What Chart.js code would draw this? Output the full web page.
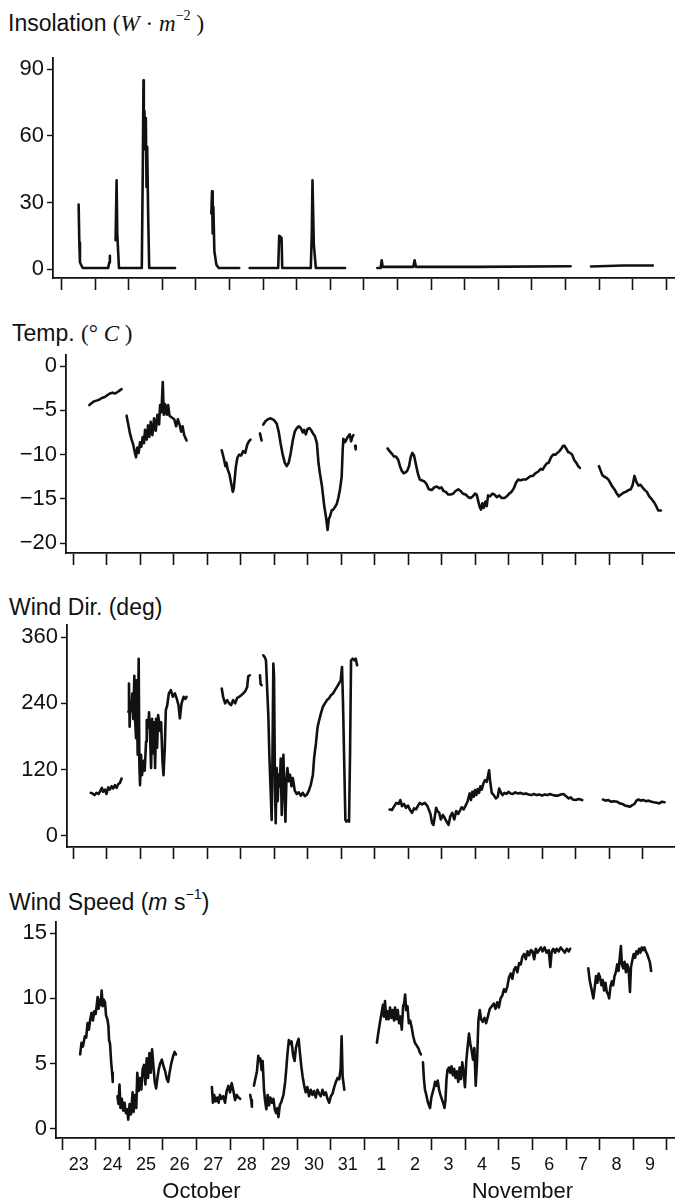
<!DOCTYPE html>
<html>
<head>
<meta charset="utf-8">
<title>Insolation, temperature and wind, 23 October - 9 November</title>
<script src="https://cdn.jsdelivr.net/npm/chart.js@4.4.1/dist/chart.umd.min.js"></script>
<style>
  html, body { margin: 0; padding: 0; background: #fff; }
  body { position: relative; width: 675px; height: 1204px; overflow: hidden;
         font-family: 'Liberation Sans', Arial, sans-serif; color: #111; }
  canvas { position: absolute; left: 0; }
  .ttl { position: absolute; font-size: 23px; line-height: 1; white-space: nowrap; }
  .sr { font-family: 'Liberation Serif', 'Times New Roman', serif; }
  sup { font-size: 62%; vertical-align: 0.75em; line-height: 0; }
</style>
</head>
<body>
<div class="ttl" style="left:8px;top:12px">Insolation <span class="sr">(<i>W</i> · <i>m</i><sup>−2</sup> )</span></div>
<div class="ttl" style="left:12px;top:322px">Temp. <span class="sr">(° <i>C</i> )</span></div>
<div class="ttl" style="left:9px;top:596px">Wind Dir. (deg)</div>
<div class="ttl" style="left:9px;top:891px">Wind Speed (<i>m</i> s<sup>−1</sup>)</div>

<canvas id="insol" width="675" height="252" style="top:42px"></canvas>
<canvas id="temp" width="675" height="230" style="top:339px"></canvas>
<canvas id="wdir" width="675" height="254" style="top:609px"></canvas>
<canvas id="wspd" width="675" height="298" style="top:906px"></canvas>

<script>
// time is in days after 23 October 00:00, null value = gap in the record
var dayLabels = ['23','24','25','26','27','28','29','30','31','1','2','3','4','5','6','7','8','9'];
var monthLabels = ['October', 'November'];
var monthAt = [4.15, 13.7];

var insolTicks = [0, 30, 60, 90];
var tempTicks = [-20, -15, -10, -5, 0];
var wdirTicks = [0, 120, 240, 360];
var wspdTicks = [0, 5, 10, 15];

var insolation = [
  [0.51,29],[0.53,12],[0.55,3],[0.63,0.5],[1.00,0.5],[1.39,0.5],[1.42,3],[1.44,6],
  [1.52,null],
  [1.61,13],[1.64,40],[1.66,16],[1.71,0.5],[2.00,0.5],[2.39,0.5],[2.42,46],[2.44,85],[2.45,58],
  [2.47,71],[2.49,54],[2.51,68],[2.53,37],[2.55,55],[2.58,24],[2.61,0.5],[3.00,0.5],[3.38,0.5],
  [3.90,null],
  [4.46,25],[4.48,35],[4.50,16],[4.52,28],[4.55,8],[4.61,2],[4.68,0.5],[5.00,0.5],[5.29,0.5],
  [5.45,null],
  [5.60,0.5],[6.00,0.5],[6.45,0.5],[6.48,15],[6.55,14],[6.57,0.5],[7.00,0.5],[7.42,0.5],
  [7.45,16],[7.47,40],[7.51,11],[7.57,0.5],[8.00,0.5],[8.44,0.5],
  [8.90,null],
  [9.40,0.5],[9.50,0.5],[9.53,4],[9.56,1],[10.00,1],[10.47,1],[10.51,4],[10.55,1],[12.34,1],[15.15,1.3],
  [15.45,null],
  [15.76,1.2],[16.72,1.6],[17.60,1.6]
];

var temperature = [
  [0.49,-4.4],[0.55,-4.2],[0.62,-4.0],[0.70,-3.9],[0.78,-3.8],[0.86,-3.6],[0.95,-3.5],[1.02,-3.3],
  [1.10,-3.1],[1.18,-3.0],[1.26,-3.1],[1.34,-2.9],[1.45,-2.6],
  [1.52,null],
  [1.60,-5.6],[1.64,-6.4],[1.70,-7.6],[1.75,-8.3],[1.80,-8.9],[1.85,-9.8],[1.88,-10.3],[1.92,-9.2],
  [1.96,-9.8],[2.00,-8.6],[2.04,-9.1],[2.08,-8.0],[2.12,-8.7],[2.15,-7.2],[2.20,-8.3],[2.24,-6.7],
  [2.28,-8.0],[2.32,-6.3],[2.37,-7.8],[2.42,-5.9],[2.47,-7.3],[2.52,-5.5],[2.57,-6.6],[2.60,-4.4],
  [2.64,-5.2],[2.68,-1.8],[2.71,-5.5],[2.75,-4.3],[2.80,-5.5],[2.84,-4.4],[2.88,-5.6],[2.95,-5.8],
  [3.02,-6.0],[3.08,-6.8],[3.13,-6.0],[3.18,-6.6],[3.23,-7.4],[3.27,-6.8],[3.32,-7.8],[3.39,-8.4],
  [3.90,null],
  [4.44,-9.5],[4.50,-10.4],[4.55,-11.3],[4.58,-10.9],[4.62,-11.7],[4.67,-12.2],[4.72,-13.2],[4.77,-14.2],
  [4.80,-13.8],[4.86,-11.4],[4.91,-10.3],[4.96,-10.0],[5.02,-10.1],[5.08,-9.6],[5.14,-9.8],[5.20,-8.9],
  [5.25,-8.5],[5.30,-8.3],
  [5.45,null],
  [5.58,-7.6],[5.63,-8.4],
  [5.655,null],
  [5.68,-6.6],[5.75,-6.2],[5.82,-6.0],[5.90,-5.9],[6.00,-6.1],[6.08,-6.5],[6.14,-7.4],[6.20,-8.8],
  [6.26,-10.0],[6.32,-10.9],[6.38,-11.3],[6.44,-10.9],[6.50,-9.8],[6.56,-8.4],[6.62,-7.4],[6.68,-7.0],
  [6.74,-6.8],[6.80,-7.0],[6.86,-7.5],[6.90,-7.2],[6.95,-7.7],[7.00,-7.1],[7.06,-7.0],[7.12,-7.3],
  [7.18,-7.7],[7.22,-7.9],[7.28,-8.7],[7.33,-11.0],[7.37,-12.1],[7.43,-13.5],[7.50,-15.8],[7.55,-17.0],
  [7.60,-18.5],[7.64,-17.2],[7.67,-17.0],[7.72,-16.3],[7.77,-16.2],[7.82,-15.9],[7.87,-15.6],[7.92,-14.9],
  [7.97,-13.9],[8.02,-12.5],[8.05,-9.5],[8.07,-8.2],[8.12,-8.6],[8.16,-8.3],[8.20,-8.0],[8.26,-7.7],
  [8.30,-8.5],[8.34,-8.0],[8.37,-7.8],
  [8.40,null],
  [8.42,-9.0],[8.44,-9.4],
  [8.90,null],
  [9.39,-9.3],[9.45,-9.6],[9.52,-9.9],[9.58,-10.2],[9.64,-10.2],[9.71,-10.6],[9.76,-11.3],[9.81,-11.8],
  [9.87,-12.1],[9.93,-12.0],[9.98,-11.8],[10.03,-11.3],[10.08,-10.3],[10.13,-9.8],[10.18,-10.1],[10.23,-11.0],
  [10.30,-12.2],[10.35,-12.8],[10.40,-12.9],[10.48,-13.0],[10.55,-13.3],[10.62,-13.9],[10.71,-14.0],[10.78,-13.7],
  [10.86,-13.6],[10.93,-13.8],[11.00,-13.7],[11.06,-14.1],[11.13,-14.2],[11.20,-14.5],[11.28,-14.5],[11.35,-14.4],
  [11.42,-14.1],[11.50,-13.9],[11.57,-14.1],[11.64,-14.4],[11.72,-14.5],[11.80,-14.8],[11.87,-14.9],[11.94,-14.7],
  [12.00,-14.4],[12.05,-14.5],[12.10,-15.3],[12.14,-15.9],[12.18,-16.2],[12.22,-15.5],[12.26,-16.0],[12.31,-15.3],
  [12.35,-15.8],[12.39,-14.6],[12.45,-14.7],[12.52,-14.4],[12.58,-14.5],[12.65,-14.8],[12.72,-14.6],[12.80,-14.9],
  [12.88,-14.9],[12.95,-14.7],[13.02,-14.4],[13.09,-14.2],[13.16,-13.8],[13.22,-13.2],[13.29,-12.8],[13.36,-12.9],
  [13.44,-12.8],[13.52,-12.8],[13.59,-12.6],[13.66,-12.4],[13.73,-12.4],[13.80,-12.1],[13.89,-11.9],[13.96,-11.6],
  [14.02,-11.7],[14.08,-11.3],[14.14,-11.0],[14.20,-10.9],[14.27,-10.3],[14.33,-10.0],[14.40,-10.0],[14.46,-9.8],
  [14.52,-9.6],[14.58,-9.3],[14.63,-9.0],[14.67,-9.0],[14.72,-9.3],[14.78,-9.7],[14.84,-9.8],[14.90,-10.0],
  [14.96,-10.6],[15.02,-10.9],[15.08,-11.3],[15.13,-11.5],
  [15.40,null],
  [15.70,-11.3],[15.75,-11.8],[15.80,-12.3],[15.86,-12.5],[15.92,-12.6],[15.98,-12.8],[16.04,-13.2],[16.10,-13.6],
  [16.16,-13.9],[16.22,-14.3],[16.29,-14.7],[16.36,-14.5],[16.43,-14.3],[16.50,-14.2],[16.58,-14.0],[16.65,-13.9],
  [16.70,-13.5],[16.76,-12.4],[16.82,-13.1],[16.88,-13.5],[16.94,-13.4],[17.00,-13.7],[17.07,-14.0],[17.13,-14.2],
  [17.20,-14.7],[17.27,-15.0],[17.35,-15.4],[17.42,-15.9],[17.47,-16.3],[17.55,-16.3]
];

var windDir = [
  [0.53,78],[0.58,77],[0.64,74],[0.70,78],[0.76,76],[0.81,81],[0.86,87],[0.90,80],[0.95,84],[1.00,76],
  [1.05,88],[1.10,84],[1.15,90],[1.20,86],[1.25,92],[1.30,87],[1.35,94],[1.40,96],[1.45,104],
  [1.55,null],
  [1.65,225],[1.67,276],[1.69,198],[1.71,241],[1.74,226],[1.77,258],[1.80,212],[1.83,290],[1.85,215],
  [1.88,177],[1.90,282],[1.93,147],[1.96,321],[1.98,130],[2.00,92],[2.03,147],[2.06,110],[2.10,136],
  [2.14,118],[2.18,171],[2.20,210],[2.24,196],[2.27,224],[2.30,180],[2.33,123],[2.36,212],[2.39,150],
  [2.42,206],[2.45,123],[2.48,212],[2.51,160],[2.54,219],[2.57,206],[2.60,190],[2.63,206],[2.67,136],
  [2.70,110],[2.74,160],[2.77,228],[2.81,236],[2.86,258],[2.92,264],[2.98,252],[3.04,258],[3.10,248],
  [3.15,236],[3.19,213],[3.24,240],[3.30,252],[3.35,248],[3.39,252],
  [3.90,null],
  [4.44,267],[4.48,252],[4.54,240],[4.60,246],[4.66,240],[4.72,237],[4.78,246],[4.84,240],[4.90,250],
  [4.96,252],[5.02,255],[5.08,258],[5.14,262],[5.20,270],[5.23,289],[5.28,291],
  [5.45,null],
  [5.58,291],[5.60,275],[5.63,273],
  [5.655,null],
  [5.68,327],[5.72,324],[5.76,318],[5.80,260],[5.83,219],[5.86,147],[5.90,80],[5.93,29],[5.95,120],
  [5.98,312],[6.00,290],[6.03,83],[6.05,23],[6.08,123],[6.11,63],[6.14,111],[6.17,90],[6.20,140],
  [6.23,38],[6.26,120],[6.28,147],[6.31,83],[6.34,26],[6.37,100],[6.40,123],[6.44,99],[6.48,111],
  [6.52,90],[6.56,105],[6.62,82],[6.68,76],[6.74,79],[6.80,73],[6.86,78],[6.92,72],[6.98,75],
  [7.04,82],[7.10,93],[7.16,111],[7.20,143],[7.25,167],[7.30,197],[7.35,210],[7.40,222],[7.46,234],
  [7.52,240],[7.58,246],[7.64,249],[7.70,255],[7.76,258],[7.82,264],[7.88,270],[7.94,276],[7.99,282],
  [8.03,306],[8.06,240],[8.10,120],[8.13,29],[8.16,26],[8.20,28],[8.24,26],[8.27,150],[8.30,318],
  [8.35,321],[8.40,318],[8.44,321],[8.48,309],
  [8.90,null],
  [9.45,48],[9.52,47],[9.58,53],[9.65,60],[9.72,58],[9.77,65],[9.82,54],[9.88,58],[9.94,51],[10.00,55],
  [10.06,47],[10.12,42],[10.18,50],[10.24,48],[10.29,54],[10.35,60],[10.42,57],[10.50,60],[10.57,55],
  [10.62,48],[10.67,40],[10.72,23],[10.76,20],[10.80,35],[10.84,51],[10.88,45],[10.93,42],[10.98,30],
  [11.04,38],[11.10,32],[11.16,25],[11.21,20],[11.26,35],[11.32,42],[11.38,30],[11.44,45],[11.50,40],
  [11.56,47],[11.60,52],[11.66,48],[11.72,55],[11.78,63],[11.84,77],[11.88,65],[11.92,80],[11.96,71],
  [12.00,83],[12.04,74],[12.08,85],[12.12,78],[12.16,90],[12.20,84],[12.25,95],[12.30,101],[12.35,98],
  [12.40,112],[12.42,119],[12.45,100],[12.50,78],[12.56,74],[12.62,68],[12.68,71],[12.72,86],[12.76,80],
  [12.82,74],[12.88,78],[12.94,76],[13.00,80],[13.06,77],[13.13,76],[13.20,79],[13.28,77],[13.36,78],
  [13.44,76],[13.52,77],[13.60,75],[13.68,74],[13.76,76],[13.84,74],[13.92,75],[14.00,73],[14.08,75],
  [14.16,74],[14.24,76],[14.32,74],[14.40,73],[14.48,73],[14.56,75],[14.64,76],[14.72,72],[14.80,68],
  [14.86,70],[14.92,66],[15.00,65],[15.10,67],[15.20,65],
  [15.50,null],
  [15.82,66],[15.90,64],[15.98,65],[16.06,62],[16.14,63],[16.24,62],[16.32,59],[16.40,58],[16.48,55],
  [16.56,54],[16.63,53],[16.70,56],[16.76,58],[16.82,64],[16.88,66],[16.95,64],[17.02,65],[17.10,63],
  [17.18,64],[17.27,62],[17.34,61],[17.42,60],[17.50,59],[17.58,62],[17.66,61]
];

var windSpeed = [
  [0.54,5.7],[0.58,6.6],[0.62,6.3],[0.68,7.1],[0.72,7.0],[0.76,8.1],[0.80,7.6],[0.84,8.4],[0.88,8.9],
  [0.92,8.3],[0.96,9.0],[1.00,8.8],[1.03,9.4],[1.06,10.1],[1.09,9.2],[1.12,9.9],[1.15,9.5],[1.18,10.6],
  [1.21,9.4],[1.24,9.9],[1.28,9.7],[1.31,8.7],[1.35,8.4],[1.38,7.9],[1.40,6.8],[1.43,6.5],[1.46,5.2],
  [1.49,4.3],[1.51,3.6],
  [1.58,null],
  [1.65,2.5],[1.68,1.9],[1.71,3.4],[1.74,1.6],[1.78,2.3],[1.82,1.4],[1.86,2.0],[1.90,1.2],[1.94,1.5],
  [1.97,0.7],[2.01,1.9],[2.05,1.1],[2.10,2.8],[2.13,1.3],[2.17,2.6],[2.21,1.6],[2.24,4.3],[2.28,2.9],
  [2.32,3.9],[2.36,3.0],[2.40,4.6],[2.44,4.9],[2.48,3.4],[2.52,5.4],[2.56,3.9],[2.60,5.8],[2.64,4.3],
  [2.68,6.1],[2.72,4.8],[2.76,3.6],[2.80,3.1],[2.84,3.9],[2.88,4.6],[2.92,5.0],[2.97,5.3],[3.02,4.8],
  [3.07,4.4],[3.12,3.8],[3.16,3.6],[3.20,4.3],[3.25,5.0],[3.31,5.6],[3.35,5.9],[3.39,5.7],
  [3.90,null],
  [4.46,3.2],[4.49,2.0],[4.53,2.6],[4.57,2.1],[4.62,2.4],[4.66,2.0],[4.70,2.6],[4.75,2.3],[4.80,2.5],
  [4.85,2.0],[4.90,2.9],[4.95,3.3],[5.00,2.8],[5.05,3.5],[5.10,2.9],[5.15,2.2],[5.20,2.6],[5.25,2.4],
  [5.30,2.3],
  [5.45,null],
  [5.60,2.6],[5.63,2.2],[5.65,1.7],
  [5.68,null],
  [5.71,3.3],[5.75,3.8],[5.80,4.4],[5.84,5.6],[5.87,5.2],[5.90,5.4],[5.94,4.5],[5.97,5.2],[6.01,3.0],
  [6.04,2.2],[6.08,1.5],[6.12,2.6],[6.16,1.8],[6.20,2.4],[6.25,2.0],[6.29,2.3],[6.33,1.5],[6.37,1.2],
  [6.41,1.6],[6.44,0.9],[6.48,1.8],[6.53,2.1],[6.59,2.6],[6.64,3.6],[6.68,4.8],[6.71,5.8],[6.75,6.8],
  [6.79,6.5],[6.83,6.7],[6.88,5.6],[6.92,5.2],[6.96,6.2],[7.00,6.6],[7.04,6.9],[7.08,5.8],[7.12,4.8],
  [7.16,4.0],[7.20,3.4],[7.25,2.8],[7.30,3.2],[7.35,2.5],[7.40,3.0],[7.45,2.6],[7.50,2.9],[7.55,2.4],
  [7.60,3.0],[7.65,2.7],[7.70,2.5],[7.75,3.0],[7.80,2.6],[7.85,2.8],[7.90,2.3],[7.95,2.0],[8.00,2.5],
  [8.05,2.7],[8.10,3.2],[8.15,3.6],[8.20,3.9],[8.25,3.8],[8.29,4.6],[8.32,7.1],[8.35,4.0],[8.40,3.0],
  [8.90,null],
  [9.37,6.6],[9.42,7.5],[9.47,8.3],[9.51,8.9],[9.55,9.5],[9.58,8.6],[9.61,9.8],[9.65,8.4],[9.68,9.0],
  [9.72,8.4],[9.76,9.3],[9.80,8.5],[9.84,9.1],[9.88,8.3],[9.91,9.3],[9.95,8.4],[9.99,9.1],[10.03,8.1],
  [10.07,8.6],[10.11,7.6],[10.15,9.4],[10.18,9.6],[10.21,10.3],[10.24,9.1],[10.28,9.4],[10.32,8.1],
  [10.36,8.3],[10.41,7.7],[10.45,7.1],[10.50,6.6],[10.55,6.4],[10.60,6.2],[10.64,5.9],[10.68,5.7],
  [10.71,null],
  [10.74,5.1],[10.77,3.8],[10.80,3.0],[10.84,2.6],[10.88,2.1],[10.92,1.8],[10.95,1.6],[10.99,2.4],
  [11.03,2.8],[11.07,3.2],[11.10,3.6],[11.14,3.3],[11.18,3.7],[11.22,3.0],[11.26,2.6],[11.30,2.3],
  [11.34,2.0],[11.38,1.6],[11.41,2.2],[11.44,3.8],[11.47,4.5],[11.51,4.7],[11.55,4.3],[11.59,4.8],
  [11.63,4.1],[11.67,4.6],[11.71,3.9],[11.75,4.4],[11.79,3.6],[11.83,4.7],[11.87,3.8],[11.91,5.1],
  [11.95,4.3],[11.99,3.2],[12.03,5.2],[12.07,6.3],[12.11,7.3],[12.15,6.5],[12.19,6.0],[12.23,5.3],
  [12.27,6.2],[12.31,3.3],[12.35,5.2],[12.39,8.3],[12.43,9.1],[12.47,8.4],[12.52,8.2],[12.57,8.5],
  [12.62,8.1],[12.68,8.7],[12.73,9.2],[12.79,9.4],[12.85,9.6],[12.90,9.2],[12.95,9.7],[13.00,9.3],
  [13.05,10.0],[13.10,10.2],[13.15,10.7],[13.20,10.5],[13.25,10.9],[13.30,11.6],[13.35,11.9],[13.40,11.5],
  [13.45,12.2],[13.50,12.4],[13.55,12.0],[13.60,12.7],[13.65,12.6],[13.70,13.2],[13.75,13.4],[13.80,13.0],
  [13.85,13.6],[13.90,13.3],[13.95,13.7],[14.00,13.6],[14.05,13.0],[14.10,13.8],[14.15,13.5],[14.20,13.7],
  [14.25,13.9],[14.30,13.6],[14.36,13.9],[14.42,13.5],[14.48,13.7],[14.53,12.4],[14.57,13.6],[14.62,13.8],
  [14.67,13.5],[14.72,13.8],[14.78,13.6],[14.84,13.9],[14.90,13.7],[14.96,13.5],[15.02,13.8],[15.08,13.6],
  [15.12,13.8],
  [15.40,null],
  [15.66,12.3],[15.70,11.4],[15.74,10.9],[15.78,10.4],[15.81,10.0],[15.85,10.8],[15.89,11.7],[15.93,11.2],
  [15.97,11.9],[16.01,11.6],[16.05,11.0],[16.09,11.4],[16.13,10.6],[16.17,11.2],[16.21,10.5],[16.25,10.3],
  [16.28,10.0],[16.32,10.9],[16.36,11.3],[16.40,11.0],[16.44,11.7],[16.48,12.0],[16.52,12.6],[16.56,12.1],
  [16.60,13.2],[16.63,14.0],[16.66,12.6],[16.70,12.3],[16.74,12.8],[16.78,12.0],[16.82,12.6],[16.86,12.2],
  [16.90,10.5],[16.93,12.4],[16.97,12.9],[17.01,13.4],[17.05,13.1],[17.09,13.6],[17.13,13.4],[17.17,13.8],
  [17.21,13.5],[17.25,13.9],[17.29,13.7],[17.33,13.9],[17.37,13.6],[17.41,13.4],[17.45,13.1],[17.49,12.8],
  [17.53,12.1]
];

Chart.defaults.font.family = "'Liberation Sans', Arial, sans-serif";
Chart.defaults.color = '#111';

function dayEdges(scale) {
  var t = [];
  for (var d = 0; d <= 18; d++) {
    if (d >= scale.min && d <= scale.max) t.push({value: d});
  }
  scale.ticks = t;
}

function panel(id, series, yTicks, f) {
  var scales = {
    x: {
      type: 'linear', position: 'bottom', min: f.xmin, max: f.xmax, weight: 0,
      afterBuildTicks: dayEdges,
      afterFit: function (s) { s.height = f.xh; s.paddingLeft = 0; s.paddingRight = 0; },
      grid: { drawOnChartArea: false, tickLength: 12, tickWidth: 1.6, tickColor: '#111' },
      border: { color: '#111', width: 1.8 },
      ticks: {
        autoSkip: false, maxRotation: 0, padding: 4, labelOffset: f.half, font: { size: 18 },
        callback: function (v, i) { return f.labels ? (dayLabels[i] || '') : ''; }
      }
    },
    y: {
      type: 'linear', min: f.ymin, max: f.ymax,
      afterBuildTicks: function (s) { s.ticks = yTicks.map(function (v) { return {value: v}; }); },
      afterFit: function (s) { s.width = f.left; s.paddingTop = 0; s.paddingBottom = 0; },
      grid: { drawOnChartArea: false, tickLength: 6, tickWidth: 1.4, tickColor: '#111' },
      border: { color: '#111', width: 1.8 },
      ticks: {
        autoSkip: false, padding: 3, font: { size: 22 },
        callback: function (v) { return String(v).replace('-', '\u2212'); }
      }
    }
  };
  if (f.months) {
    scales.xm = {
      type: 'linear', position: 'bottom', min: f.xmin, max: f.xmax, weight: 1,
      afterBuildTicks: function (s) { s.ticks = monthAt.map(function (v) { return {value: v}; }); },
      afterFit: function (s) { s.height = f.mh; s.paddingLeft = 0; s.paddingRight = 0; },
      grid: { display: false, drawTicks: false },
      border: { display: false },
      ticks: {
        autoSkip: false, maxRotation: 0, padding: 1, font: { size: 22 },
        callback: function (v, i) { return monthLabels[i]; }
      }
    };
  }
  new Chart(document.getElementById(id), {
    type: 'line',
    data: {
      datasets: [{
        data: series.map(function (p) { return {x: p[0], y: p[1]}; }),
        borderColor: '#111', borderWidth: 2.6, pointRadius: 0, tension: 0,
        spanGaps: false, borderJoinStyle: 'round', borderCapStyle: 'round'
      }]
    },
    options: {
      responsive: false, animation: false, events: [],
      layout: { padding: { top: 16, left: 0, right: 0, bottom: 0 } },
      plugins: { legend: { display: false }, tooltip: { enabled: false } },
      scales: scales
    }
  });
}

panel('insol', insolation, insolTicks,
  { left: 53, xmin: -0.253, xmax: 18.26, ymin: -4, ymax: 95, xh: 16, half: 16.8 });
panel('temp', temperature, tempTicks,
  { left: 66, xmin: -0.209, xmax: 17.97, ymin: -21.1, ymax: 1.25, xh: 16, half: 16.75 });
panel('wdir', windDir, wdirTicks,
  { left: 67, xmin: -0.18, xmax: 17.97, ymin: -20, ymax: 382, xh: 16, half: 16.75 });
panel('wspd', windSpeed, wspdTicks,
  { left: 56, xmin: -0.179, xmax: 18.24, ymin: -0.7, ymax: 15.85, xh: 40, mh: 26, half: 16.8,
    labels: true, months: true });
</script>
</body>
</html>
